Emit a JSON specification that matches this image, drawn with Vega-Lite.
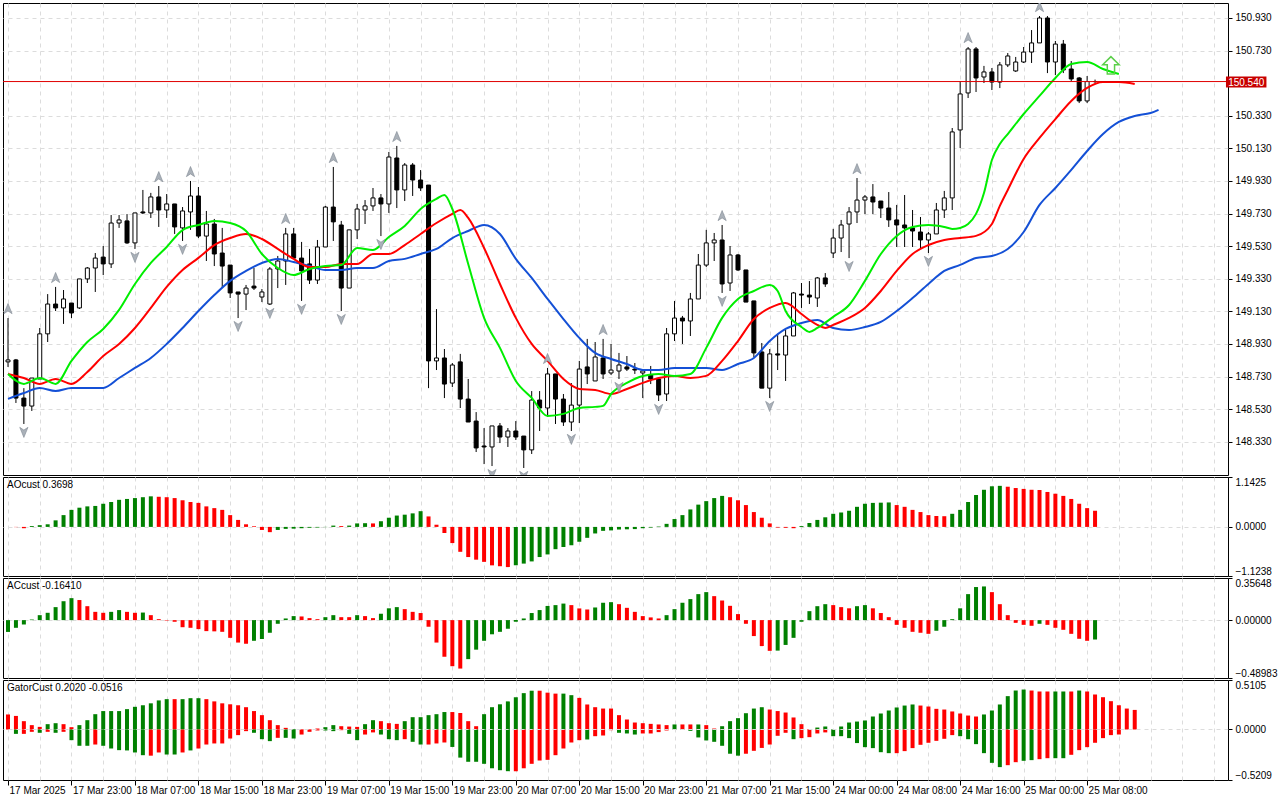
{
  "$schema": "https://vega.github.io/schema/vega-lite/v6.json",
  "background": "white",
  "padding": {"left": 2, "top": 2, "right": 0, "bottom": 0},
  "spacing": 0,
  "config": {
    "view": {"stroke": "#000000", "strokeWidth": 1},
    "font": "Liberation Sans",
    "axis": {
      "labelFont": "Liberation Sans", "labelFontSize": 10, "labelColor": "#000000",
      "tickColor": "#000000", "domain": false, "title": null, "labelOverlap": false,
      "gridColor": "#dcdcdc", "gridDash": [4, 4], "gridWidth": 1
    },
    "title": {"font": "Liberation Sans", "fontSize": 10, "fontWeight": "normal", "color": "#000000"}
  },
  "datasets": {
    "bars": [
      {"k":0,"o":148.820,"h":149.089,"l":148.789,"c":148.832,"ao":0,"aot":"dn","ac":-0.100,"act":"up","fu":1},
      {"k":1,"o":148.832,"h":148.838,"l":148.568,"c":148.598,"ao":-0.005,"aot":"dn","ac":-0.065,"act":"up"},
      {"k":2,"o":148.598,"h":148.659,"l":148.439,"c":148.549,"ao":-0.03,"aot":"dn","ac":-0.037,"act":"up","fd":1},
      {"k":3,"o":148.549,"h":148.721,"l":148.519,"c":148.721,"ao":0.02,"aot":"up","ac":0.005,"act":"up"},
      {"k":4,"o":148.715,"h":149.028,"l":148.715,"c":148.992,"ao":0.04,"aot":"up","ac":0.042,"act":"up"},
      {"k":5,"o":148.992,"h":149.236,"l":148.942,"c":149.175,"ao":0.06,"aot":"up","ac":0.062,"act":"up"},
      {"k":6,"o":149.175,"h":149.280,"l":149.132,"c":149.151,"ao":0.15,"aot":"up","ac":0.11,"act":"up","fu":1},
      {"k":7,"o":149.151,"h":149.261,"l":149.053,"c":149.206,"ao":0.27,"aot":"up","ac":0.16,"act":"up"},
      {"k":8,"o":149.181,"h":149.181,"l":149.089,"c":149.120,"ao":0.39,"aot":"up","ac":0.186,"act":"up"},
      {"k":9,"o":149.151,"h":149.329,"l":149.145,"c":149.329,"ao":0.44,"aot":"up","ac":0.17,"act":"dn"},
      {"k":10,"o":149.329,"h":149.402,"l":149.304,"c":149.396,"ao":0.47,"aot":"up","ac":0.118,"act":"dn"},
      {"k":11,"o":149.396,"h":149.488,"l":149.249,"c":149.457,"ao":0.48,"aot":"up","ac":0.07,"act":"dn"},
      {"k":12,"o":149.463,"h":149.531,"l":149.353,"c":149.421,"ao":0.53,"aot":"up","ac":0.062,"act":"dn"},
      {"k":13,"o":149.421,"h":149.721,"l":149.396,"c":149.672,"ao":0.57,"aot":"up","ac":0.07,"act":"up"},
      {"k":14,"o":149.672,"h":149.721,"l":149.642,"c":149.691,"ao":0.62,"aot":"up","ac":0.085,"act":"up"},
      {"k":15,"o":149.685,"h":149.727,"l":149.544,"c":149.550,"ao":0.64,"aot":"up","ac":0.07,"act":"dn"},
      {"k":16,"o":149.550,"h":149.734,"l":149.513,"c":149.734,"ao":0.66,"aot":"up","ac":0.062,"act":"dn","fd":1},
      {"k":17,"o":149.740,"h":149.875,"l":149.727,"c":149.734,"ao":0.68,"aot":"up","ac":0.064,"act":"up"},
      {"k":18,"o":149.734,"h":149.857,"l":149.703,"c":149.832,"ao":0.70,"aot":"up","ac":0.042,"act":"dn"},
      {"k":19,"o":149.832,"h":149.899,"l":149.648,"c":149.752,"ao":0.69,"aot":"dn","ac":0.008,"act":"dn","fu":1},
      {"k":20,"o":149.752,"h":149.850,"l":149.703,"c":149.789,"ao":0.68,"aot":"dn","ac":-0.004,"act":"dn"},
      {"k":21,"o":149.789,"h":149.789,"l":149.605,"c":149.648,"ao":0.66,"aot":"dn","ac":-0.014,"act":"dn"},
      {"k":22,"o":149.642,"h":149.770,"l":149.562,"c":149.746,"ao":0.61,"aot":"dn","ac":-0.06,"act":"dn","fd":1},
      {"k":23,"o":149.740,"h":149.930,"l":149.630,"c":149.838,"ao":0.57,"aot":"dn","ac":-0.065,"act":"dn","fu":1},
      {"k":24,"o":149.838,"h":149.893,"l":149.580,"c":149.592,"ao":0.55,"aot":"dn","ac":-0.076,"act":"dn"},
      {"k":25,"o":149.592,"h":149.746,"l":149.439,"c":149.666,"ao":0.47,"aot":"dn","ac":-0.093,"act":"dn"},
      {"k":26,"o":149.666,"h":149.697,"l":149.408,"c":149.482,"ao":0.43,"aot":"dn","ac":-0.095,"act":"dn"},
      {"k":27,"o":149.488,"h":149.642,"l":149.273,"c":149.408,"ao":0.39,"aot":"dn","ac":-0.099,"act":"dn"},
      {"k":28,"o":149.414,"h":149.414,"l":149.212,"c":149.243,"ao":0.27,"aot":"dn","ac":-0.15,"act":"dn"},
      {"k":29,"o":149.249,"h":149.249,"l":149.089,"c":149.236,"ao":0.16,"aot":"dn","ac":-0.19,"act":"dn","fd":1},
      {"k":30,"o":149.236,"h":149.292,"l":149.138,"c":149.273,"ao":0.06,"aot":"dn","ac":-0.20,"act":"dn"},
      {"k":31,"o":149.285,"h":149.396,"l":149.261,"c":149.273,"ao":0.015,"aot":"dn","ac":-0.175,"act":"up"},
      {"k":32,"o":149.218,"h":149.267,"l":149.187,"c":149.249,"ao":-0.07,"aot":"dn","ac":-0.16,"act":"up"},
      {"k":33,"o":149.175,"h":149.402,"l":149.169,"c":149.390,"ao":-0.12,"aot":"dn","ac":-0.107,"act":"up","fd":1},
      {"k":34,"o":149.390,"h":149.470,"l":149.273,"c":149.439,"ao":-0.07,"aot":"up","ac":-0.031,"act":"up"},
      {"k":35,"o":149.439,"h":149.642,"l":149.292,"c":149.605,"ao":-0.045,"aot":"up","ac":0.014,"act":"up","fu":1},
      {"k":36,"o":149.605,"h":149.642,"l":149.451,"c":149.457,"ao":-0.04,"aot":"up","ac":0.034,"act":"up"},
      {"k":37,"o":149.457,"h":149.556,"l":149.194,"c":149.378,"ao":-0.03,"aot":"up","ac":0.031,"act":"dn","fd":1},
      {"k":38,"o":149.421,"h":149.513,"l":149.298,"c":149.322,"ao":-0.02,"aot":"up","ac":0.017,"act":"dn"},
      {"k":39,"o":149.322,"h":149.568,"l":149.298,"c":149.525,"ao":-0.015,"aot":"up","ac":0.008,"act":"dn"},
      {"k":40,"o":149.525,"h":149.777,"l":149.525,"c":149.770,"ao":-0.005,"aot":"up","ac":0.025,"act":"up"},
      {"k":41,"o":149.770,"h":150.016,"l":149.562,"c":149.679,"ao":0.03,"aot":"up","ac":0.042,"act":"up","fu":1},
      {"k":42,"o":149.660,"h":149.685,"l":149.132,"c":149.273,"ao":0.02,"aot":"dn","ac":0.025,"act":"dn","fd":1},
      {"k":43,"o":149.273,"h":149.630,"l":149.273,"c":149.630,"ao":0.03,"aot":"up","ac":0.025,"act":"dn"},
      {"k":44,"o":149.630,"h":149.789,"l":149.574,"c":149.758,"ao":0.08,"aot":"up","ac":0.042,"act":"up"},
      {"k":45,"o":149.752,"h":149.813,"l":149.666,"c":149.777,"ao":0.085,"aot":"up","ac":0.034,"act":"dn"},
      {"k":46,"o":149.777,"h":149.887,"l":149.746,"c":149.826,"ao":0.08,"aot":"dn","ac":0.017,"act":"dn"},
      {"k":47,"o":149.826,"h":149.850,"l":149.592,"c":149.789,"ao":0.13,"aot":"up","ac":0.054,"act":"up","fd":1},
      {"k":48,"o":149.789,"h":150.108,"l":149.734,"c":150.077,"ao":0.21,"aot":"up","ac":0.10,"act":"up"},
      {"k":49,"o":150.071,"h":150.145,"l":149.764,"c":149.875,"ao":0.26,"aot":"up","ac":0.11,"act":"up","fu":1},
      {"k":50,"o":149.875,"h":150.040,"l":149.807,"c":150.028,"ao":0.28,"aot":"up","ac":0.093,"act":"dn"},
      {"k":51,"o":150.028,"h":150.040,"l":149.838,"c":149.936,"ao":0.31,"aot":"up","ac":0.07,"act":"dn"},
      {"k":52,"o":149.936,"h":149.997,"l":149.869,"c":149.887,"ao":0.36,"aot":"up","ac":0.06,"act":"dn"},
      {"k":53,"o":149.905,"h":149.905,"l":148.659,"c":148.826,"ao":0.24,"aot":"dn","ac":-0.056,"act":"dn"},
      {"k":54,"o":148.826,"h":149.144,"l":148.770,"c":148.844,"ao":0.05,"aot":"dn","ac":-0.19,"act":"dn"},
      {"k":55,"o":148.844,"h":148.899,"l":148.598,"c":148.684,"ao":-0.14,"aot":"dn","ac":-0.31,"act":"dn"},
      {"k":56,"o":148.690,"h":148.813,"l":148.666,"c":148.801,"ao":-0.37,"aot":"dn","ac":-0.39,"act":"dn"},
      {"k":57,"o":148.820,"h":148.869,"l":148.537,"c":148.592,"ao":-0.57,"aot":"dn","ac":-0.41,"act":"dn"},
      {"k":58,"o":148.592,"h":148.715,"l":148.451,"c":148.451,"ao":-0.69,"aot":"dn","ac":-0.33,"act":"up"},
      {"k":59,"o":148.457,"h":148.512,"l":148.267,"c":148.292,"ao":-0.75,"aot":"dn","ac":-0.25,"act":"up"},
      {"k":60,"o":148.304,"h":148.414,"l":148.193,"c":148.298,"ao":-0.80,"aot":"dn","ac":-0.175,"act":"up"},
      {"k":61,"o":148.298,"h":148.427,"l":148.181,"c":148.427,"ao":-0.88,"aot":"dn","ac":-0.12,"act":"up","fd":1},
      {"k":62,"o":148.427,"h":148.445,"l":148.322,"c":148.359,"ao":-0.90,"aot":"dn","ac":-0.099,"act":"up"},
      {"k":63,"o":148.359,"h":148.414,"l":148.298,"c":148.396,"ao":-0.92,"aot":"dn","ac":-0.073,"act":"up"},
      {"k":64,"o":148.396,"h":148.457,"l":148.341,"c":148.359,"ao":-0.88,"aot":"up","ac":-0.014,"act":"up"},
      {"k":65,"o":148.365,"h":148.365,"l":148.169,"c":148.280,"ao":-0.84,"aot":"up","ac":0.014,"act":"up","fd":1},
      {"k":66,"o":148.280,"h":148.641,"l":148.255,"c":148.586,"ao":-0.79,"aot":"up","ac":0.06,"act":"up"},
      {"k":67,"o":148.586,"h":148.641,"l":148.396,"c":148.537,"ao":-0.69,"aot":"up","ac":0.085,"act":"up"},
      {"k":68,"o":148.537,"h":148.783,"l":148.482,"c":148.746,"ao":-0.63,"aot":"up","ac":0.12,"act":"up","fu":1},
      {"k":69,"o":148.746,"h":148.746,"l":148.439,"c":148.592,"ao":-0.51,"aot":"up","ac":0.127,"act":"up"},
      {"k":70,"o":148.592,"h":148.623,"l":148.427,"c":148.451,"ao":-0.46,"aot":"up","ac":0.14,"act":"up"},
      {"k":71,"o":148.451,"h":148.690,"l":148.396,"c":148.555,"ao":-0.42,"aot":"up","ac":0.127,"act":"dn","fd":1},
      {"k":72,"o":148.555,"h":148.826,"l":148.445,"c":148.776,"ao":-0.34,"aot":"up","ac":0.099,"act":"dn"},
      {"k":73,"o":148.789,"h":148.961,"l":148.684,"c":148.746,"ao":-0.25,"aot":"up","ac":0.09,"act":"dn"},
      {"k":74,"o":148.703,"h":148.942,"l":148.703,"c":148.850,"ao":-0.15,"aot":"up","ac":0.107,"act":"up"},
      {"k":75,"o":148.844,"h":148.961,"l":148.715,"c":148.746,"ao":-0.09,"aot":"up","ac":0.147,"act":"up","fu":1},
      {"k":76,"o":148.752,"h":148.930,"l":148.740,"c":148.770,"ao":-0.08,"aot":"up","ac":0.152,"act":"up"},
      {"k":77,"o":148.764,"h":148.875,"l":148.715,"c":148.801,"ao":-0.06,"aot":"up","ac":0.135,"act":"dn","fd":1},
      {"k":78,"o":148.789,"h":148.856,"l":148.764,"c":148.776,"ao":-0.055,"aot":"up","ac":0.104,"act":"dn"},
      {"k":79,"o":148.776,"h":148.813,"l":148.746,"c":148.770,"ao":-0.05,"aot":"up","ac":0.07,"act":"dn"},
      {"k":80,"o":148.752,"h":148.776,"l":148.598,"c":148.764,"ao":-0.03,"aot":"up","ac":0.034,"act":"dn"},
      {"k":81,"o":148.740,"h":148.795,"l":148.684,"c":148.715,"ao":-0.015,"aot":"up","ac":0.023,"act":"dn"},
      {"k":82,"o":148.715,"h":148.715,"l":148.580,"c":148.617,"ao":0.01,"aot":"up","ac":0.014,"act":"dn","fd":1},
      {"k":83,"o":148.623,"h":149.028,"l":148.580,"c":148.992,"ao":0.07,"aot":"up","ac":0.042,"act":"up"},
      {"k":84,"o":148.992,"h":149.194,"l":148.948,"c":149.089,"ao":0.18,"aot":"up","ac":0.093,"act":"up"},
      {"k":85,"o":149.089,"h":149.102,"l":148.930,"c":149.071,"ao":0.27,"aot":"up","ac":0.147,"act":"up"},
      {"k":86,"o":149.071,"h":149.243,"l":148.979,"c":149.206,"ao":0.40,"aot":"up","ac":0.178,"act":"up"},
      {"k":87,"o":149.206,"h":149.482,"l":149.206,"c":149.414,"ao":0.51,"aot":"up","ac":0.22,"act":"up"},
      {"k":88,"o":149.414,"h":149.630,"l":149.402,"c":149.550,"ao":0.59,"aot":"up","ac":0.237,"act":"up"},
      {"k":89,"o":149.550,"h":149.611,"l":149.439,"c":149.568,"ao":0.66,"aot":"up","ac":0.203,"act":"dn"},
      {"k":90,"o":149.568,"h":149.660,"l":149.243,"c":149.298,"ao":0.71,"aot":"up","ac":0.166,"act":"dn","fu":1,"fd":1},
      {"k":91,"o":149.304,"h":149.531,"l":149.255,"c":149.476,"ao":0.68,"aot":"dn","ac":0.121,"act":"dn"},
      {"k":92,"o":149.476,"h":149.482,"l":149.378,"c":149.384,"ao":0.61,"aot":"dn","ac":0.051,"act":"dn"},
      {"k":93,"o":149.384,"h":149.384,"l":149.187,"c":149.187,"ao":0.50,"aot":"dn","ac":-0.031,"act":"dn"},
      {"k":94,"o":149.194,"h":149.194,"l":148.850,"c":148.875,"ao":0.34,"aot":"dn","ac":-0.135,"act":"dn"},
      {"k":95,"o":148.881,"h":148.936,"l":148.659,"c":148.659,"ao":0.21,"aot":"dn","ac":-0.22,"act":"dn"},
      {"k":96,"o":148.659,"h":148.899,"l":148.598,"c":148.869,"ao":0.08,"aot":"dn","ac":-0.26,"act":"dn","fd":1},
      {"k":97,"o":148.869,"h":148.992,"l":148.770,"c":148.862,"ao":-0.015,"aot":"dn","ac":-0.258,"act":"up"},
      {"k":98,"o":148.862,"h":149.016,"l":148.703,"c":148.979,"ao":-0.02,"aot":"dn","ac":-0.21,"act":"up"},
      {"k":99,"o":148.979,"h":149.249,"l":148.979,"c":149.243,"ao":-0.03,"aot":"dn","ac":-0.15,"act":"up"},
      {"k":100,"o":149.236,"h":149.304,"l":149.151,"c":149.230,"ao":0.02,"aot":"up","ac":-0.014,"act":"up"},
      {"k":101,"o":149.230,"h":149.316,"l":149.175,"c":149.218,"ao":0.09,"aot":"up","ac":0.076,"act":"up"},
      {"k":102,"o":149.212,"h":149.341,"l":149.157,"c":149.335,"ao":0.16,"aot":"up","ac":0.118,"act":"up"},
      {"k":103,"o":149.335,"h":149.365,"l":149.280,"c":149.298,"ao":0.22,"aot":"up","ac":0.135,"act":"up"},
      {"k":104,"o":149.488,"h":149.636,"l":149.457,"c":149.580,"ao":0.30,"aot":"up","ac":0.127,"act":"dn"},
      {"k":105,"o":149.580,"h":149.691,"l":149.494,"c":149.660,"ao":0.33,"aot":"up","ac":0.11,"act":"dn"},
      {"k":106,"o":149.666,"h":149.770,"l":149.457,"c":149.740,"ao":0.37,"aot":"up","ac":0.10,"act":"dn","fd":1},
      {"k":107,"o":149.740,"h":149.948,"l":149.672,"c":149.813,"ao":0.46,"aot":"up","ac":0.118,"act":"up","fu":1},
      {"k":108,"o":149.813,"h":149.844,"l":149.727,"c":149.832,"ao":0.53,"aot":"up","ac":0.127,"act":"up"},
      {"k":109,"o":149.832,"h":149.911,"l":149.727,"c":149.801,"ao":0.55,"aot":"up","ac":0.10,"act":"dn"},
      {"k":110,"o":149.807,"h":149.807,"l":149.703,"c":149.764,"ao":0.555,"aot":"up","ac":0.06,"act":"dn"},
      {"k":111,"o":149.764,"h":149.862,"l":149.648,"c":149.691,"ao":0.56,"aot":"up","ac":0.025,"act":"dn"},
      {"k":112,"o":149.691,"h":149.783,"l":149.525,"c":149.660,"ao":0.50,"aot":"dn","ac":-0.04,"act":"dn"},
      {"k":113,"o":149.660,"h":149.844,"l":149.525,"c":149.642,"ao":0.46,"aot":"dn","ac":-0.065,"act":"dn"},
      {"k":114,"o":149.642,"h":149.752,"l":149.525,"c":149.623,"ao":0.39,"aot":"dn","ac":-0.099,"act":"dn"},
      {"k":115,"o":149.617,"h":149.709,"l":149.513,"c":149.568,"ao":0.34,"aot":"dn","ac":-0.107,"act":"dn"},
      {"k":116,"o":149.568,"h":149.617,"l":149.488,"c":149.605,"ao":0.27,"aot":"dn","ac":-0.116,"act":"dn","fd":1},
      {"k":117,"o":149.605,"h":149.795,"l":149.605,"c":149.752,"ao":0.25,"aot":"dn","ac":-0.09,"act":"up"},
      {"k":118,"o":149.752,"h":149.869,"l":149.703,"c":149.826,"ao":0.245,"aot":"dn","ac":-0.056,"act":"up"},
      {"k":119,"o":149.826,"h":150.255,"l":149.752,"c":150.231,"ao":0.30,"aot":"up","ac":0.008,"act":"up"},
      {"k":120,"o":150.243,"h":150.543,"l":150.132,"c":150.464,"ao":0.39,"aot":"up","ac":0.10,"act":"up"},
      {"k":121,"o":150.470,"h":150.752,"l":150.439,"c":150.740,"ao":0.57,"aot":"up","ac":0.22,"act":"up","fu":1},
      {"k":122,"o":150.740,"h":150.752,"l":150.476,"c":150.562,"ao":0.73,"aot":"up","ac":0.28,"act":"up"},
      {"k":123,"o":150.568,"h":150.636,"l":150.531,"c":150.599,"ao":0.85,"aot":"up","ac":0.285,"act":"up"},
      {"k":124,"o":150.599,"h":150.623,"l":150.488,"c":150.537,"ao":0.93,"aot":"up","ac":0.237,"act":"dn"},
      {"k":125,"o":150.537,"h":150.660,"l":150.500,"c":150.642,"ao":0.94,"aot":"up","ac":0.135,"act":"dn"},
      {"k":126,"o":150.642,"h":150.715,"l":150.629,"c":150.697,"ao":0.92,"aot":"dn","ac":0.042,"act":"dn"},
      {"k":127,"o":150.605,"h":150.691,"l":150.599,"c":150.660,"ao":0.89,"aot":"dn","ac":-0.023,"act":"dn"},
      {"k":128,"o":150.660,"h":150.752,"l":150.654,"c":150.721,"ao":0.87,"aot":"dn","ac":-0.04,"act":"dn"},
      {"k":129,"o":150.721,"h":150.856,"l":150.654,"c":150.777,"ao":0.85,"aot":"dn","ac":-0.048,"act":"dn"},
      {"k":130,"o":150.777,"h":150.942,"l":150.777,"c":150.930,"ao":0.845,"aot":"dn","ac":-0.031,"act":"up","fu":1},
      {"k":131,"o":150.930,"h":150.942,"l":150.592,"c":150.660,"ao":0.80,"aot":"dn","ac":-0.04,"act":"dn"},
      {"k":132,"o":150.660,"h":150.789,"l":150.580,"c":150.770,"ao":0.76,"aot":"dn","ac":-0.065,"act":"dn"},
      {"k":133,"o":150.770,"h":150.795,"l":150.592,"c":150.611,"ao":0.71,"aot":"dn","ac":-0.082,"act":"dn"},
      {"k":134,"o":150.617,"h":150.666,"l":150.543,"c":150.556,"ao":0.64,"aot":"dn","ac":-0.116,"act":"dn"},
      {"k":135,"o":150.562,"h":150.568,"l":150.408,"c":150.421,"ao":0.53,"aot":"dn","ac":-0.158,"act":"dn"},
      {"k":136,"o":150.421,"h":150.574,"l":150.408,"c":150.540,"ao":0.43,"aot":"dn","ac":-0.175,"act":"dn"},
      {"k":137,"o":150.540,"h":150.552,"l":150.530,"c":150.540,"ao":0.3698,"aot":"dn","ac":-0.1641,"act":"up"}
    ],
    "ma": [
      {"k":0,"lips":148.746,"teeth":148.746,"jaw":148.593},
      {"k":2,"lips":148.685,"teeth":148.721,"jaw":148.629},
      {"k":4,"lips":148.721,"teeth":148.685,"jaw":148.660},
      {"k":6,"lips":148.685,"teeth":148.715,"jaw":148.642},
      {"k":8,"lips":148.826,"teeth":148.685,"jaw":148.660},
      {"k":10,"lips":148.942,"teeth":148.758,"jaw":148.660},
      {"k":12,"lips":149.022,"teeth":148.856,"jaw":148.660},
      {"k":14,"lips":149.139,"teeth":148.930,"jaw":148.721},
      {"k":16,"lips":149.298,"teeth":149.028,"jaw":148.783},
      {"k":18,"lips":149.427,"teeth":149.151,"jaw":148.844},
      {"k":20,"lips":149.525,"teeth":149.280,"jaw":148.930},
      {"k":22,"lips":149.629,"teeth":149.384,"jaw":149.028},
      {"k":24,"lips":149.660,"teeth":149.458,"jaw":149.132},
      {"k":26,"lips":149.685,"teeth":149.537,"jaw":149.230},
      {"k":28,"lips":149.672,"teeth":149.580,"jaw":149.317},
      {"k":30,"lips":149.623,"teeth":149.605,"jaw":149.378},
      {"k":32,"lips":149.482,"teeth":149.574,"jaw":149.427},
      {"k":34,"lips":149.396,"teeth":149.513,"jaw":149.452},
      {"k":36,"lips":149.353,"teeth":149.452,"jaw":149.433},
      {"k":38,"lips":149.390,"teeth":149.402,"jaw":149.409},
      {"k":40,"lips":149.409,"teeth":149.402,"jaw":149.384},
      {"k":42,"lips":149.415,"teeth":149.421,"jaw":149.384},
      {"k":44,"lips":149.519,"teeth":149.421,"jaw":149.396},
      {"k":46,"lips":149.507,"teeth":149.482,"jaw":149.396},
      {"k":48,"lips":149.586,"teeth":149.482,"jaw":149.439},
      {"k":50,"lips":149.654,"teeth":149.537,"jaw":149.452},
      {"k":52,"lips":149.758,"teeth":149.605,"jaw":149.482},
      {"k":54,"lips":149.820,"teeth":149.672,"jaw":149.513},
      {"k":55,"lips":149.844},
      {"k":56,"lips":149.758,"teeth":149.728,"jaw":149.580},
      {"k":57,"teeth":149.752},
      {"k":58,"lips":149.421,"teeth":149.703,"jaw":149.623},
      {"k":60,"lips":149.090,"teeth":149.519,"jaw":149.660},
      {"k":62,"lips":148.906,"teeth":149.298,"jaw":149.605},
      {"k":64,"lips":148.703,"teeth":149.090,"jaw":149.452},
      {"k":66,"lips":148.599,"teeth":148.930,"jaw":149.335},
      {"k":68,"lips":148.488,"teeth":148.826,"jaw":149.206},
      {"k":70,"lips":148.501,"teeth":148.715,"jaw":149.083},
      {"k":72,"lips":148.537,"teeth":148.654,"jaw":148.967},
      {"k":74,"lips":148.544,"teeth":148.648,"jaw":148.875},
      {"k":75,"lips":148.550},
      {"k":76,"lips":148.623,"teeth":148.623,"jaw":148.838},
      {"k":78,"lips":148.691,"teeth":148.654,"jaw":148.807},
      {"k":80,"lips":148.734,"teeth":148.691,"jaw":148.771},
      {"k":82,"lips":148.746,"teeth":148.721,"jaw":148.771},
      {"k":84,"lips":148.734,"teeth":148.734,"jaw":148.783},
      {"k":86,"lips":148.746,"teeth":148.721,"jaw":148.783},
      {"k":88,"lips":148.906,"teeth":148.734,"jaw":148.783},
      {"k":90,"lips":149.090,"teeth":148.826,"jaw":148.771},
      {"k":92,"lips":149.206,"teeth":148.948,"jaw":148.807},
      {"k":94,"lips":149.255,"teeth":149.083,"jaw":148.844},
      {"k":96,"lips":149.292,"teeth":149.151,"jaw":148.948},
      {"k":97,"lips":149.255},
      {"k":98,"lips":149.132,"teeth":149.182,"jaw":149.022},
      {"k":100,"lips":149.034,"teeth":149.114,"jaw":149.059},
      {"k":101,"lips":149.004,"teeth":149.077},
      {"k":102,"lips":149.028,"teeth":149.047,"jaw":149.077},
      {"k":103,"teeth":149.028},
      {"k":104,"lips":149.096,"teeth":149.047,"jaw":149.028},
      {"k":106,"lips":149.169,"teeth":149.090,"jaw":149.016},
      {"k":108,"lips":149.317,"teeth":149.151,"jaw":149.034},
      {"k":110,"lips":149.482,"teeth":149.255,"jaw":149.065},
      {"k":112,"lips":149.593,"teeth":149.378,"jaw":149.132},
      {"k":114,"lips":149.648,"teeth":149.482,"jaw":149.212},
      {"k":116,"lips":149.660,"teeth":149.537,"jaw":149.298},
      {"k":118,"lips":149.648,"teeth":149.568,"jaw":149.378},
      {"k":119,"lips":149.636},
      {"k":120,"lips":149.642,"teeth":149.580,"jaw":149.415},
      {"k":121,"lips":149.666},
      {"k":122,"lips":149.728,"teeth":149.593,"jaw":149.458},
      {"k":123,"lips":149.856},
      {"k":124,"lips":150.059,"teeth":149.666,"jaw":149.470},
      {"k":125,"lips":150.157,"teeth":149.777},
      {"k":126,"lips":150.218,"teeth":149.875,"jaw":149.513},
      {"k":128,"lips":150.341,"teeth":150.065,"jaw":149.617},
      {"k":130,"lips":150.452,"teeth":150.194,"jaw":149.783},
      {"k":132,"lips":150.562,"teeth":150.310,"jaw":149.887},
      {"k":134,"lips":150.648,"teeth":150.421,"jaw":149.998},
      {"k":136,"lips":150.660,"teeth":150.501,"jaw":150.114},
      {"k":138,"lips":150.617,"teeth":150.537,"jaw":150.218},
      {"k":140,"lips":150.586,"teeth":150.537,"jaw":150.292},
      {"k":142,"teeth":150.525,"jaw":150.329},
      {"k":144,"jaw":150.347},
      {"k":145,"jaw":150.366}
    ],
    "gator": [
      {"k":0,"gu":0.155,"gut":"dn","gd":0,"gdt":"up"},
      {"k":1,"gu":0.14,"gut":"dn","gd":-0.045,"gdt":"up"},
      {"k":2,"gu":0.086,"gut":"dn","gd":-0.045,"gdt":"dn"},
      {"k":3,"gu":0.045,"gut":"dn","gd":-0.024,"gdt":"dn"},
      {"k":4,"gu":0.027,"gut":"dn","gd":-0.034,"gdt":"up"},
      {"k":5,"gu":0.055,"gut":"up","gd":-0.024,"gdt":"dn"},
      {"k":6,"gu":0.065,"gut":"up","gd":-0.034,"gdt":"up"},
      {"k":7,"gu":0.055,"gut":"dn","gd":-0.024,"gdt":"dn"},
      {"k":8,"gu":0.024,"gut":"dn","gd":-0.11,"gdt":"up"},
      {"k":9,"gu":0.045,"gut":"up","gd":-0.168,"gdt":"up"},
      {"k":10,"gu":0.096,"gut":"up","gd":-0.168,"gdt":"up"},
      {"k":11,"gu":0.158,"gut":"up","gd":-0.155,"gdt":"dn"},
      {"k":12,"gu":0.19,"gut":"up","gd":-0.168,"gdt":"up"},
      {"k":13,"gu":0.19,"gut":"up","gd":-0.196,"gdt":"up"},
      {"k":14,"gu":0.19,"gut":"up","gd":-0.213,"gdt":"up"},
      {"k":15,"gu":0.21,"gut":"up","gd":-0.216,"gdt":"up"},
      {"k":16,"gu":0.234,"gut":"up","gd":-0.237,"gdt":"up"},
      {"k":17,"gu":0.25,"gut":"up","gd":-0.265,"gdt":"up"},
      {"k":18,"gu":0.27,"gut":"up","gd":-0.27,"gdt":"dn"},
      {"k":19,"gu":0.30,"gut":"up","gd":-0.237,"gdt":"dn"},
      {"k":20,"gu":0.313,"gut":"up","gd":-0.258,"gdt":"up"},
      {"k":21,"gu":0.313,"gut":"dn","gd":-0.258,"gdt":"up"},
      {"k":22,"gu":0.313,"gut":"up","gd":-0.237,"gdt":"dn"},
      {"k":23,"gu":0.323,"gut":"up","gd":-0.216,"gdt":"up"},
      {"k":24,"gu":0.323,"gut":"up","gd":-0.196,"gdt":"dn"},
      {"k":25,"gu":0.313,"gut":"dn","gd":-0.155,"gdt":"dn"},
      {"k":26,"gu":0.29,"gut":"dn","gd":-0.144,"gdt":"dn"},
      {"k":27,"gu":0.27,"gut":"dn","gd":-0.144,"gdt":"dn"},
      {"k":28,"gu":0.26,"gut":"dn","gd":-0.093,"gdt":"dn"},
      {"k":29,"gu":0.25,"gut":"dn","gd":-0.058,"gdt":"dn"},
      {"k":30,"gu":0.23,"gut":"dn","gd":-0.017,"gdt":"dn"},
      {"k":31,"gu":0.19,"gut":"dn","gd":-0.034,"gdt":"up"},
      {"k":32,"gu":0.148,"gut":"dn","gd":-0.10,"gdt":"up"},
      {"k":33,"gu":0.096,"gut":"dn","gd":-0.12,"gdt":"up"},
      {"k":34,"gu":0.045,"gut":"dn","gd":-0.086,"gdt":"dn"},
      {"k":35,"gu":0.017,"gut":"dn","gd":-0.086,"gdt":"up"},
      {"k":36,"gu":0.005,"gut":"up","gd":-0.093,"gdt":"up"},
      {"k":37,"gu":0.003,"gut":"dn","gd":-0.052,"gdt":"dn"},
      {"k":38,"gu":0.003,"gut":"dn","gd":-0.024,"gdt":"dn"},
      {"k":39,"gu":0.01,"gut":"dn","gd":-0.01,"gdt":"dn"},
      {"k":40,"gu":0.024,"gut":"up","gd":-0.01,"gdt":"up"},
      {"k":41,"gu":0.045,"gut":"up","gd":-0.017,"gdt":"up"},
      {"k":42,"gu":0.034,"gut":"dn","gd":-0.007,"gdt":"dn"},
      {"k":43,"gu":0.03,"gut":"dn","gd":-0.045,"gdt":"up"},
      {"k":44,"gu":0.027,"gut":"dn","gd":-0.11,"gdt":"up"},
      {"k":45,"gu":0.055,"gut":"up","gd":-0.052,"gdt":"dn"},
      {"k":46,"gu":0.096,"gut":"up","gd":-0.03,"gdt":"dn"},
      {"k":47,"gu":0.086,"gut":"dn","gd":-0.052,"gdt":"up"},
      {"k":48,"gu":0.065,"gut":"dn","gd":-0.10,"gdt":"up"},
      {"k":49,"gu":0.058,"gut":"dn","gd":-0.11,"gdt":"up"},
      {"k":50,"gu":0.086,"gut":"up","gd":-0.10,"gdt":"dn"},
      {"k":51,"gu":0.127,"gut":"up","gd":-0.127,"gdt":"up"},
      {"k":52,"gu":0.127,"gut":"up","gd":-0.155,"gdt":"up"},
      {"k":53,"gu":0.148,"gut":"up","gd":-0.155,"gdt":"dn"},
      {"k":54,"gu":0.158,"gut":"up","gd":-0.144,"gdt":"dn"},
      {"k":55,"gu":0.18,"gut":"up","gd":-0.134,"gdt":"dn"},
      {"k":56,"gu":0.18,"gut":"dn","gd":-0.18,"gdt":"up"},
      {"k":57,"gu":0.17,"gut":"dn","gd":-0.29,"gdt":"up"},
      {"k":58,"gu":0.086,"gut":"dn","gd":-0.333,"gdt":"up"},
      {"k":59,"gu":0.034,"gut":"dn","gd":-0.333,"gdt":"up"},
      {"k":60,"gu":0.158,"gut":"up","gd":-0.354,"gdt":"up"},
      {"k":61,"gu":0.23,"gut":"up","gd":-0.40,"gdt":"up"},
      {"k":62,"gu":0.26,"gut":"up","gd":-0.42,"gdt":"up"},
      {"k":63,"gu":0.29,"gut":"up","gd":-0.43,"gdt":"up"},
      {"k":64,"gu":0.333,"gut":"up","gd":-0.43,"gdt":"dn"},
      {"k":65,"gu":0.375,"gut":"up","gd":-0.40,"gdt":"dn"},
      {"k":66,"gu":0.40,"gut":"up","gd":-0.354,"gdt":"dn"},
      {"k":67,"gu":0.40,"gut":"dn","gd":-0.32,"gdt":"dn"},
      {"k":68,"gu":0.38,"gut":"dn","gd":-0.313,"gdt":"dn"},
      {"k":69,"gu":0.37,"gut":"dn","gd":-0.265,"gdt":"dn"},
      {"k":70,"gu":0.37,"gut":"up","gd":-0.196,"gdt":"dn"},
      {"k":71,"gu":0.354,"gut":"up","gd":-0.134,"gdt":"dn"},
      {"k":72,"gu":0.326,"gut":"dn","gd":-0.11,"gdt":"dn"},
      {"k":73,"gu":0.258,"gut":"dn","gd":-0.103,"gdt":"up"},
      {"k":74,"gu":0.23,"gut":"dn","gd":-0.069,"gdt":"dn"},
      {"k":75,"gu":0.216,"gut":"dn","gd":-0.062,"gdt":"dn"},
      {"k":76,"gu":0.216,"gut":"dn","gd":-0.007,"gdt":"dn"},
      {"k":77,"gu":0.148,"gut":"dn","gd":-0.034,"gdt":"up"},
      {"k":78,"gu":0.103,"gut":"dn","gd":-0.041,"gdt":"up"},
      {"k":79,"gu":0.072,"gut":"dn","gd":-0.052,"gdt":"up"},
      {"k":80,"gu":0.065,"gut":"dn","gd":-0.041,"gdt":"dn"},
      {"k":81,"gu":0.058,"gut":"dn","gd":-0.041,"gdt":"dn"},
      {"k":82,"gu":0.052,"gut":"dn","gd":-0.027,"gdt":"dn"},
      {"k":83,"gu":0.045,"gut":"dn","gd":-0.01,"gdt":"dn"},
      {"k":84,"gu":0.052,"gut":"up","gd":-0.003,"gdt":"up"},
      {"k":85,"gu":0.052,"gut":"dn","gd":-0.003,"gdt":"up"},
      {"k":86,"gu":0.052,"gut":"dn","gd":-0.014,"gdt":"up"},
      {"k":87,"gu":0.052,"gut":"up","gd":-0.082,"gdt":"up"},
      {"k":88,"gu":0.045,"gut":"dn","gd":-0.113,"gdt":"up"},
      {"k":89,"gu":0.01,"gut":"dn","gd":-0.127,"gdt":"up"},
      {"k":90,"gu":0.034,"gut":"up","gd":-0.168,"gdt":"up"},
      {"k":91,"gu":0.086,"gut":"up","gd":-0.25,"gdt":"up"},
      {"k":92,"gu":0.117,"gut":"up","gd":-0.27,"gdt":"up"},
      {"k":93,"gu":0.168,"gut":"up","gd":-0.25,"gdt":"dn"},
      {"k":94,"gu":0.216,"gut":"up","gd":-0.22,"gdt":"dn"},
      {"k":95,"gu":0.23,"gut":"up","gd":-0.19,"gdt":"dn"},
      {"k":96,"gu":0.206,"gut":"dn","gd":-0.155,"gdt":"dn"},
      {"k":97,"gu":0.19,"gut":"dn","gd":-0.065,"gdt":"dn"},
      {"k":98,"gu":0.175,"gut":"dn","gd":-0.034,"gdt":"dn"},
      {"k":99,"gu":0.124,"gut":"dn","gd":-0.10,"gdt":"up"},
      {"k":100,"gu":0.055,"gut":"dn","gd":-0.089,"gdt":"dn"},
      {"k":101,"gu":0.005,"gut":"dn","gd":-0.079,"gdt":"dn"},
      {"k":102,"gu":0.02,"gut":"up","gd":-0.041,"gdt":"dn"},
      {"k":103,"gu":0.031,"gut":"up","gd":-0.03,"gdt":"dn"},
      {"k":104,"gu":0.003,"gut":"up","gd":-0.069,"gdt":"up"},
      {"k":105,"gu":0.031,"gut":"up","gd":-0.069,"gdt":"up"},
      {"k":106,"gu":0.072,"gut":"up","gd":-0.089,"gdt":"up"},
      {"k":107,"gu":0.082,"gut":"up","gd":-0.14,"gdt":"up"},
      {"k":108,"gu":0.093,"gut":"up","gd":-0.182,"gdt":"up"},
      {"k":109,"gu":0.134,"gut":"up","gd":-0.192,"gdt":"up"},
      {"k":110,"gu":0.165,"gut":"up","gd":-0.234,"gdt":"up"},
      {"k":111,"gu":0.196,"gut":"up","gd":-0.244,"gdt":"up"},
      {"k":112,"gu":0.227,"gut":"up","gd":-0.244,"gdt":"dn"},
      {"k":113,"gu":0.247,"gut":"up","gd":-0.223,"gdt":"dn"},
      {"k":114,"gu":0.258,"gut":"up","gd":-0.192,"gdt":"dn"},
      {"k":115,"gu":0.247,"gut":"dn","gd":-0.158,"gdt":"dn"},
      {"k":116,"gu":0.237,"gut":"dn","gd":-0.137,"gdt":"dn"},
      {"k":117,"gu":0.213,"gut":"dn","gd":-0.117,"gdt":"dn"},
      {"k":118,"gu":0.206,"gut":"dn","gd":-0.096,"gdt":"dn"},
      {"k":119,"gu":0.186,"gut":"dn","gd":-0.058,"gdt":"dn"},
      {"k":120,"gu":0.165,"gut":"dn","gd":-0.069,"gdt":"up"},
      {"k":121,"gu":0.144,"gut":"dn","gd":-0.10,"gdt":"up"},
      {"k":122,"gu":0.134,"gut":"dn","gd":-0.151,"gdt":"up"},
      {"k":123,"gu":0.155,"gut":"up","gd":-0.244,"gdt":"up"},
      {"k":124,"gu":0.196,"gut":"up","gd":-0.344,"gdt":"up"},
      {"k":125,"gu":0.258,"gut":"up","gd":-0.388,"gdt":"up"},
      {"k":126,"gu":0.344,"gut":"up","gd":-0.368,"gdt":"dn"},
      {"k":127,"gu":0.402,"gut":"up","gd":-0.337,"gdt":"dn"},
      {"k":128,"gu":0.412,"gut":"up","gd":-0.323,"gdt":"up"},
      {"k":129,"gu":0.402,"gut":"dn","gd":-0.316,"gdt":"up"},
      {"k":130,"gu":0.392,"gut":"dn","gd":-0.306,"gdt":"dn"},
      {"k":131,"gu":0.392,"gut":"dn","gd":-0.296,"gdt":"dn"},
      {"k":132,"gu":0.392,"gut":"up","gd":-0.296,"gdt":"up"},
      {"k":133,"gu":0.392,"gut":"up","gd":-0.296,"gdt":"up"},
      {"k":134,"gu":0.392,"gut":"dn","gd":-0.261,"gdt":"dn"},
      {"k":135,"gu":0.402,"gut":"up","gd":-0.213,"gdt":"dn"},
      {"k":136,"gu":0.392,"gut":"dn","gd":-0.182,"gdt":"dn"},
      {"k":137,"gu":0.361,"gut":"dn","gd":-0.137,"gdt":"dn"},
      {"k":138,"gu":0.333,"gut":"dn","gd":-0.089,"gdt":"dn"},
      {"k":139,"gu":0.292,"gut":"dn","gd":-0.058,"gdt":"dn"},
      {"k":140,"gu":0.25,"gut":"dn","gd":-0.0516,"gdt":"dn"},
      {"k":141,"gu":0.216,"gut":"dn"},
      {"k":142,"gu":0.202,"gut":"dn"}
    ],
    "signal": [{"k": 139, "p": 150.64}]
  },
  "vconcat": [
    {
      "width": 1225,
      "height": 472,
      "data": {"name": "bars"},
      "layer": [
        {
          "mark": {"type": "rule", "color": "#000000", "strokeWidth": 1, "clip": true},
          "encoding": {
            "x": {
              "field": "k", "type": "quantitative",
              "scale": {"domain": [0, 153.125], "nice": false, "zero": false},
              "axis": {
                "values": [0,4,8,12,16,20,24,28,32,36,40,44,48,52,56,60,64,68,72,76,80,84,88,92,96,100,104,108,112,116,120,124,128,132,136,140,144,148,152],
                "tickCount": 60, "labels": false, "ticks": false, "grid": true
              }
            },
            "y": {
              "field": "l", "type": "quantitative",
              "scale": {"domain": [148.126, 151.022], "nice": false, "zero": false},
              "axis": {
                "orient": "right",
                "values": [148.33,148.53,148.73,148.93,149.13,149.33,149.53,149.73,149.93,150.13,150.33,150.73,150.93],
                "tickCount": 30, "format": ".3f",
                "grid": true, "tickSize": 4, "labelPadding": 3, "labelOverlap": false
              }
            },
            "y2": {"field": "h"}
          }
        },
        {
          "mark": {"type": "bar", "size": 4, "stroke": "#000000", "strokeWidth": 1, "clip": true},
          "encoding": {
            "x": {"field": "k", "type": "quantitative"},
            "y": {"field": "o", "type": "quantitative"},
            "y2": {"field": "c"},
            "fill": {"condition": {"test": "datum.c >= datum.o", "value": "#ffffff"}, "value": "#000000"}
          }
        },
        {
          "data": {"name": "ma"},
          "transform": [{"filter": "isValid(datum.jaw)"}],
          "mark": {"type": "line", "color": "#1450d6", "strokeWidth": 2, "interpolate": "monotone", "clip": true},
          "encoding": {
            "x": {"field": "k", "type": "quantitative"},
            "y": {"field": "jaw", "type": "quantitative"}
          }
        },
        {
          "data": {"name": "ma"},
          "transform": [{"filter": "isValid(datum.teeth)"}],
          "mark": {"type": "line", "color": "#ff0000", "strokeWidth": 2, "interpolate": "monotone", "clip": true},
          "encoding": {
            "x": {"field": "k", "type": "quantitative"},
            "y": {"field": "teeth", "type": "quantitative"}
          }
        },
        {
          "data": {"name": "ma"},
          "transform": [{"filter": "isValid(datum.lips)"}],
          "mark": {"type": "line", "color": "#00ee00", "strokeWidth": 2, "interpolate": "monotone", "clip": true},
          "encoding": {
            "x": {"field": "k", "type": "quantitative"},
            "y": {"field": "lips", "type": "quantitative"}
          }
        },
        {
          "transform": [{"filter": "datum.fu === 1"}],
          "mark": {"type": "point", "filled": true, "clip": true, "shape": "M0,-1L0.75,0.85L0,0.35L-0.75,0.85Z", "size": 120, "color": "#aab1b9", "stroke": "#7f8892", "strokeWidth": 0.6, "opacity": 1, "yOffset": -9},
          "encoding": {
            "x": {"field": "k", "type": "quantitative"},
            "y": {"field": "h", "type": "quantitative"}
          }
        },
        {
          "transform": [{"filter": "datum.fd === 1"}],
          "mark": {"type": "point", "filled": true, "clip": true, "shape": "M0,1L0.75,-0.85L0,-0.35L-0.75,-0.85Z", "size": 120, "color": "#aab1b9", "stroke": "#7f8892", "strokeWidth": 0.6, "opacity": 1, "yOffset": 8},
          "encoding": {
            "x": {"field": "k", "type": "quantitative"},
            "y": {"field": "l", "type": "quantitative"}
          }
        },
        {
          "transform": [{"filter": "datum.k === 137"}],
          "mark": {"type": "rule", "strokeWidth": 1, "opacity": 1},
          "encoding": {
            "y": {"field": "c", "type": "quantitative"},
            "color": {"value": "#e00000"}
          }
        },
        {
          "transform": [{"filter": "datum.k === 137"}],
          "mark": {"type": "rect", "color": "#c80000", "yOffset": -5, "y2Offset": 6},
          "encoding": {
            "x": {"datum": 153.5, "type": "quantitative"},
            "x2": {"datum": 158.6},
            "y": {"field": "c", "type": "quantitative"},
            "y2": {"field": "c"}
          }
        },
        {
          "transform": [{"filter": "datum.k === 137"}],
          "mark": {"type": "text", "color": "#ffffff", "fontSize": 10, "font": "Liberation Sans", "align": "center", "baseline": "middle", "dy": 1},
          "encoding": {
            "x": {"datum": 156.05, "type": "quantitative"},
            "y": {"field": "c", "type": "quantitative"},
            "text": {"field": "c", "type": "quantitative", "format": ".3f"}
          }
        },
        {
          "data": {"name": "signal"},
          "mark": {"type": "point", "filled": false, "shape": "M0,-1L0.95,-0.05L0.42,-0.05L0.42,1L-0.42,1L-0.42,-0.05L-0.95,-0.05Z", "size": 300, "stroke": "#5ccf4a", "strokeWidth": 1.5, "opacity": 1},
          "encoding": {
            "x": {"field": "k", "type": "quantitative"},
            "y": {"field": "p", "type": "quantitative"}
          }
        }
      ]
    },
    {
      "width": 1225,
      "height": 99,
      "data": {"name": "bars"},
      "title": {"text": "AOcust 0.3698", "anchor": "start", "offset": -13, "dx": 4},
      "mark": {"type": "bar", "size": 4},
      "encoding": {
        "x": {
          "field": "k", "type": "quantitative",
          "scale": {"domain": [0, 153.125], "nice": false, "zero": false},
          "axis": {
            "values": [0,4,8,12,16,20,24,28,32,36,40,44,48,52,56,60,64,68,72,76,80,84,88,92,96,100,104,108,112,116,120,124,128,132,136,140,144,148,152],
            "tickCount": 60, "labels": false, "ticks": false, "grid": true
          }
        },
        "y": {
          "field": "ao", "type": "quantitative",
          "scale": {"domain": [-1.1238, 1.1425], "nice": false, "zero": false},
          "axis": {
            "orient": "right", "values": [1.1425, 0, -1.1238], "format": ".4f", "tickCount": 10,
            "labelFlush": true, "tickSize": 4, "labelPadding": 3, "grid": true,
            "gridOpacity": {"condition": {"test": "datum.value === 0", "value": 1}, "value": 0}
          }
        },
        "y2": {"datum": 0},
        "color": {"field": "aot", "type": "nominal", "scale": {"domain": ["up", "dn"], "range": ["#008000", "#ff0000"]}, "legend": null}
      }
    },
    {
      "width": 1225,
      "height": 100,
      "data": {"name": "bars"},
      "title": {"text": "ACcust -0.16410", "anchor": "start", "offset": -13, "dx": 4},
      "mark": {"type": "bar", "size": 4},
      "encoding": {
        "x": {
          "field": "k", "type": "quantitative",
          "scale": {"domain": [0, 153.125], "nice": false, "zero": false},
          "axis": {
            "values": [0,4,8,12,16,20,24,28,32,36,40,44,48,52,56,60,64,68,72,76,80,84,88,92,96,100,104,108,112,116,120,124,128,132,136,140,144,148,152],
            "tickCount": 60, "labels": false, "ticks": false, "grid": true
          }
        },
        "y": {
          "field": "ac", "type": "quantitative",
          "scale": {"domain": [-0.48983, 0.35648], "nice": false, "zero": false},
          "axis": {
            "orient": "right", "values": [0.35648, 0, -0.48983], "format": ".5f", "tickCount": 10,
            "labelFlush": true, "tickSize": 4, "labelPadding": 3, "grid": true,
            "gridOpacity": {"condition": {"test": "datum.value === 0", "value": 1}, "value": 0}
          }
        },
        "y2": {"datum": 0},
        "color": {"field": "act", "type": "nominal", "scale": {"domain": ["up", "dn"], "range": ["#008000", "#ff0000"]}, "legend": null}
      }
    },
    {
      "width": 1225,
      "height": 100,
      "data": {"name": "gator"},
      "title": {"text": "GatorCust 0.2020 -0.0516", "anchor": "start", "offset": -13, "dx": 4},
      "layer": [
        {
          "mark": {"type": "bar", "size": 4},
          "encoding": {
            "x": {
              "field": "k", "type": "quantitative",
              "scale": {"domain": [0, 153.125], "nice": false, "zero": false},
              "axis": {
                "values": [0,4,8,12,16,20,24,28,32,36,40,44,48,52,56,60,64,68,72,76,80,84,88,92,96,100,104,108,112,116,120,124,128,132,136,140,144,148,152],
                "tickCount": 60,
                "grid": true, "labelAlign": "left", "labelOffset": 1, "labelPadding": 0, "tickSize": 5,
                "labelOverlap": false, "labelBound": false, "labelFlush": false,
                "tickOpacity": {"condition": {"test": "datum.value % 8 === 0 && datum.value <= 136", "value": 1}, "value": 0},
                "labelExpr": "datum.value % 8 === 0 && datum.value <= 136 ? ['17 Mar 2025','17 Mar 23:00','18 Mar 07:00','18 Mar 15:00','18 Mar 23:00','19 Mar 07:00','19 Mar 15:00','19 Mar 23:00','20 Mar 07:00','20 Mar 15:00','20 Mar 23:00','21 Mar 07:00','21 Mar 15:00','24 Mar 00:00','24 Mar 08:00','24 Mar 16:00','25 Mar 00:00','25 Mar 08:00'][datum.value / 8] : ''"
              }
            },
            "y": {
              "field": "gu", "type": "quantitative",
              "scale": {"domain": [-0.5209, 0.5105], "nice": false, "zero": false},
              "axis": {
                "orient": "right", "values": [0.5105, 0, -0.5209], "format": ".4f", "tickCount": 10,
                "labelFlush": true, "tickSize": 4, "labelPadding": 3, "grid": true, "zindex": 1,
                "gridOpacity": {"condition": {"test": "datum.value === 0", "value": 1}, "value": 0}
              }
            },
            "y2": {"datum": 0},
            "color": {"field": "gut", "type": "nominal", "scale": {"domain": ["up", "dn"], "range": ["#008000", "#ff0000"]}, "legend": null}
          }
        },
        {
          "mark": {"type": "bar", "size": 4},
          "encoding": {
            "x": {"field": "k", "type": "quantitative"},
            "y": {"field": "gd", "type": "quantitative"},
            "y2": {"datum": 0},
            "color": {"field": "gdt", "type": "nominal", "scale": {"domain": ["up", "dn"], "range": ["#008000", "#ff0000"]}, "legend": null}
          }
        }
      ]
    }
  ]
}
